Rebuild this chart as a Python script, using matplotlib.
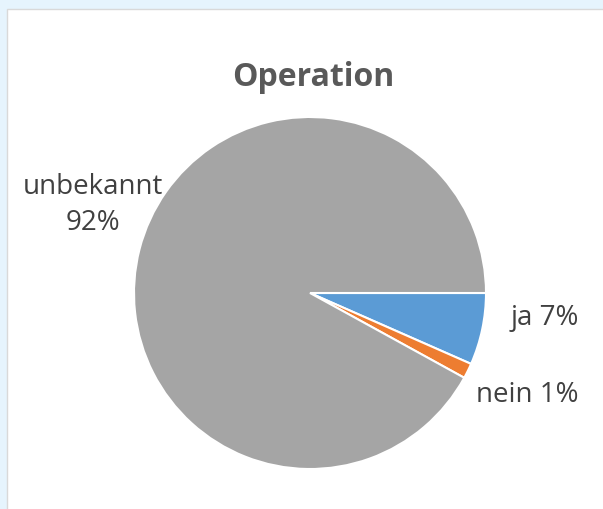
import matplotlib
matplotlib.use('Agg')
import matplotlib.pyplot as plt
from matplotlib.patches import Rectangle

labels = ['ja', 'nein', 'unbekannt']
values = [6.6, 1.4, 92.0]
pct_text = ['7%', '1%', '92%']
colors = ['#5B9BD5', '#ED7D31', '#A5A5A5']

plt.rcParams['font.family'] = ['Open Sans', 'DejaVu Sans']

fig = plt.figure(figsize=(6.03, 5.09), dpi=100)
fig.patch.set_facecolor('#E6F4FD')

ax = fig.add_axes([0, 0, 1, 1])
ax.set_facecolor('none')
# white chart area with thin gray border
ax.add_patch(Rectangle((7 / 603, -0.01), 1, 1 - 9 / 509 + 0.01, transform=fig.transFigure,
                       facecolor='white', edgecolor='#D9D9D9', linewidth=1,
                       zorder=-10, clip_on=False))
ax.pie(values, colors=colors, startangle=0, counterclock=False, radius=1,
       wedgeprops=dict(edgecolor='white', linewidth=1.5))
ax.set_xlim(-310 / 176, 293 / 176)
ax.set_ylim(-216 / 176, 293 / 176)
ax.set_aspect('auto')
ax.axis('off')

ax.text(0.017, 1.222, 'Operation', ha='center', va='center', fontsize=23,
        fontweight='bold', color='#595959')
txt_color = '#404040'
ax.text(-1.233, 0.50, labels[2] + '\n' + pct_text[2], ha='center', va='center',
        fontsize=20, color=txt_color, linespacing=1.4)
ax.text(1.335, -0.142, labels[0] + ' ' + pct_text[0], ha='center', va='center',
        fontsize=20, color=txt_color)
ax.text(1.233, -0.580, labels[1] + ' ' + pct_text[1], ha='center', va='center',
        fontsize=20, color=txt_color)

fig.savefig('out.png', dpi=100, facecolor=fig.get_facecolor())
